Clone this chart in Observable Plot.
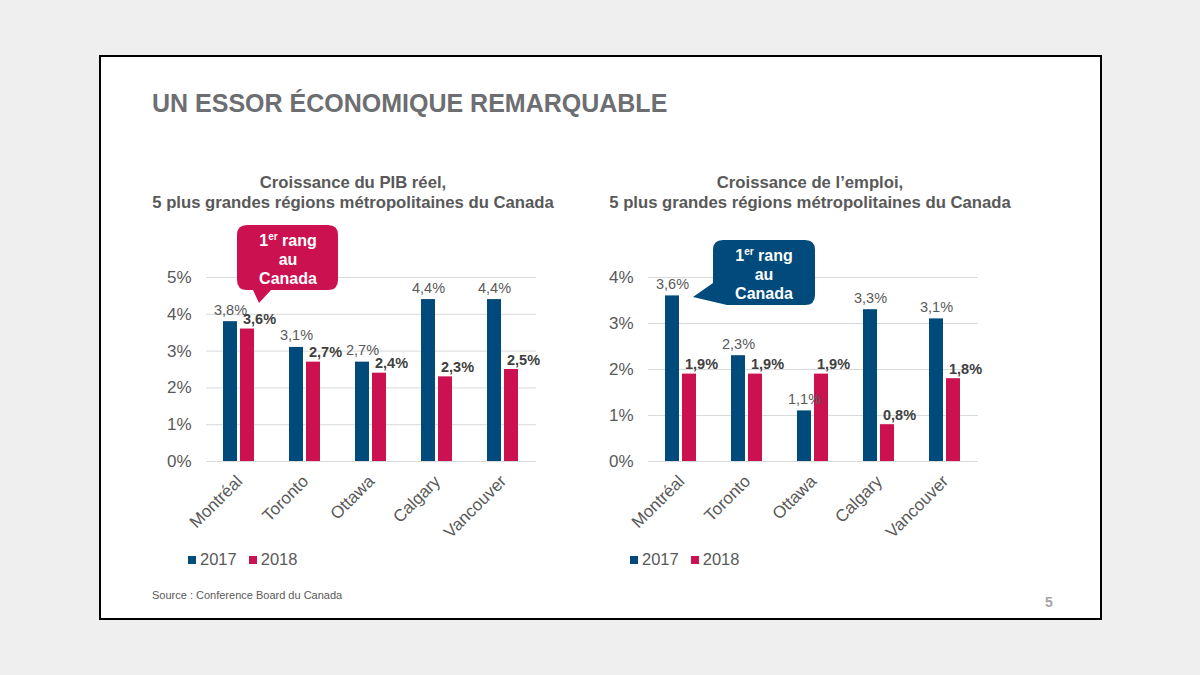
<!DOCTYPE html>
<html><head><meta charset="utf-8">
<script src="https://cdn.jsdelivr.net/npm/d3@7"></script>
<script src="https://cdn.jsdelivr.net/npm/@observablehq/plot@0.6"></script>
<style>
html,body{margin:0;padding:0;}
body{width:1200px;height:675px;background:#efefef;position:relative;font-family:"Liberation Sans",Arial,sans-serif;overflow:hidden;}
#slide{position:absolute;left:99px;top:55px;width:1003px;height:565px;box-sizing:border-box;background:#fff;border:2px solid #000;}
#title{position:absolute;left:152px;top:91px;font-size:25px;line-height:25px;font-weight:bold;color:#6d6e71;white-space:nowrap;}
.sub{position:absolute;width:480px;top:173px;text-align:center;font-size:16.7px;line-height:20px;font-weight:bold;color:#595959;}
.chart{position:absolute;top:230px;}
.legend{position:absolute;top:550px;font-size:16.5px;line-height:18px;color:#595959;white-space:nowrap;}
.legend span.sw{display:inline-block;width:8px;height:8px;margin-right:4px;vertical-align:1px;}
.legend span.item{margin-right:12px;}
#source{position:absolute;left:152px;top:589px;font-size:11px;line-height:12px;color:#595959;}
#page{position:absolute;left:1045px;top:595px;font-size:14px;line-height:14px;font-weight:bold;color:#a6a6a6;}
#overlay{position:absolute;left:0;top:0;pointer-events:none;}
</style>
</head><body>
<div id="slide"></div>
<div id="title">UN ESSOR ÉCONOMIQUE REMARQUABLE</div>
<div class="sub" style="left:113px">Croissance du PIB réel,<br>5 plus grandes régions métropolitaines du Canada</div>
<div class="sub" style="left:570px">Croissance de l’emploi,<br>5 plus grandes régions métropolitaines du Canada</div>
<div class="chart" id="c1" style="left:140px"></div>
<div class="chart" id="c2" style="left:582px"></div>
<div class="legend" id="l1" style="left:188px"></div>
<div class="legend" id="l2" style="left:630px"></div>
<div id="source">Source : Conference Board du Canada</div>
<div id="page">5</div>
<svg id="overlay" width="1200" height="675" font-family="Liberation Sans, Arial, sans-serif">
  <path d="M247,225 H328 Q338,225 338,235 V280 Q338,290 328,290 H271 L259,303 L253,290 H247 Q237,290 237,280 V235 Q237,225 247,225 Z" fill="#cc1150"/>
  <text x="288" y="246" text-anchor="middle" fill="#fff" font-weight="bold" font-size="16">1<tspan font-size="10" dy="-6">er</tspan><tspan dy="6"> rang</tspan></text>
  <text x="288" y="265" text-anchor="middle" fill="#fff" font-weight="bold" font-size="16">au</text>
  <text x="288" y="284" text-anchor="middle" fill="#fff" font-weight="bold" font-size="16">Canada</text>
  <path d="M723,240 H805 Q815,240 815,250 V295 Q815,305 805,305 H727 L693,297 L713,283 V250 Q713,240 723,240 Z" fill="#004a7c"/>
  <text x="764" y="261" text-anchor="middle" fill="#fff" font-weight="bold" font-size="16">1<tspan font-size="10" dy="-6">er</tspan><tspan dy="6"> rang</tspan></text>
  <text x="764" y="280" text-anchor="middle" fill="#fff" font-weight="bold" font-size="16">au</text>
  <text x="764" y="299" text-anchor="middle" fill="#fff" font-weight="bold" font-size="16">Canada</text>
</svg>
<script>
const cities = ["Montréal", "Toronto", "Ottawa", "Calgary", "Vancouver"];
const years = ["2017", "2018"];
const colors = ["#004a7c", "#cc1150"];
const pib2017 = [3.8, 3.1, 2.7, 4.4, 4.4];
const pib2018 = [3.6, 2.7, 2.4, 2.3, 2.5];
const emploi2017 = [3.6, 2.3, 1.1, 3.3, 3.1];
const emploi2018 = [1.9, 1.9, 1.9, 0.8, 1.8];
const pibTicks = [0, 1, 2, 3, 4, 5];
const emploiTicks = [0, 1, 2, 3, 4];

const fmt = v => v.toFixed(1).replace(".", ",") + "%";

function chart(v2017, v2018, ticks) {
  const data = cities.flatMap((c, i) => [
    {city: c, year: "2017", value: v2017[i]},
    {city: c, year: "2018", value: v2018[i]}
  ]);
  return Plot.plot({
    width: 420, height: 320,
    marginLeft: 65, marginRight: 24, marginTop: 47, marginBottom: 89,
    style: {fontFamily: '"Liberation Sans", Arial, sans-serif', fontSize: "17px", color: "#595959", background: "transparent", overflow: "visible"},
    fx: {domain: cities, padding: 0, axis: "bottom", tickRotate: -45, tickSize: 0, tickPadding: 17, label: null},
    x: {domain: years, axis: null, paddingInner: 0.16, paddingOuter: 0.92},
    y: {domain: [0, ticks[ticks.length - 1]], ticks: ticks, tickFormat: d => d + "%", tickSize: 0, tickPadding: 15, label: null},
    color: {domain: years, range: colors},
    marks: [
      Plot.ruleY(ticks, {stroke: "#d9d9d9"}),
      Plot.barY(data, {fx: "city", x: "year", y: "value", fill: "year"}),
      Plot.text(data, {filter: d => d.year === "2017", fx: "city", x: "year", y: "value", text: d => fmt(d.value), lineAnchor: "bottom", dy: -7, fill: "#595959", fontSize: 14.5}),
      Plot.text(data, {filter: d => d.year === "2018", fx: "city", x: "year", y: "value", text: d => fmt(d.value), lineAnchor: "bottom", dy: -5, dx: 12, fill: "#404040", fontWeight: "bold", fontSize: 14.5})
    ]
  });
}

document.getElementById("c1").append(chart(pib2017, pib2018, pibTicks));
document.getElementById("c2").append(chart(emploi2017, emploi2018, emploiTicks));

for (const id of ["l1", "l2"]) {
  document.getElementById(id).innerHTML = years.map((y, i) =>
    `<span class="item"><span class="sw" style="background:${colors[i]}"></span>${y}</span>`).join("");
}
</script>
</body></html>
